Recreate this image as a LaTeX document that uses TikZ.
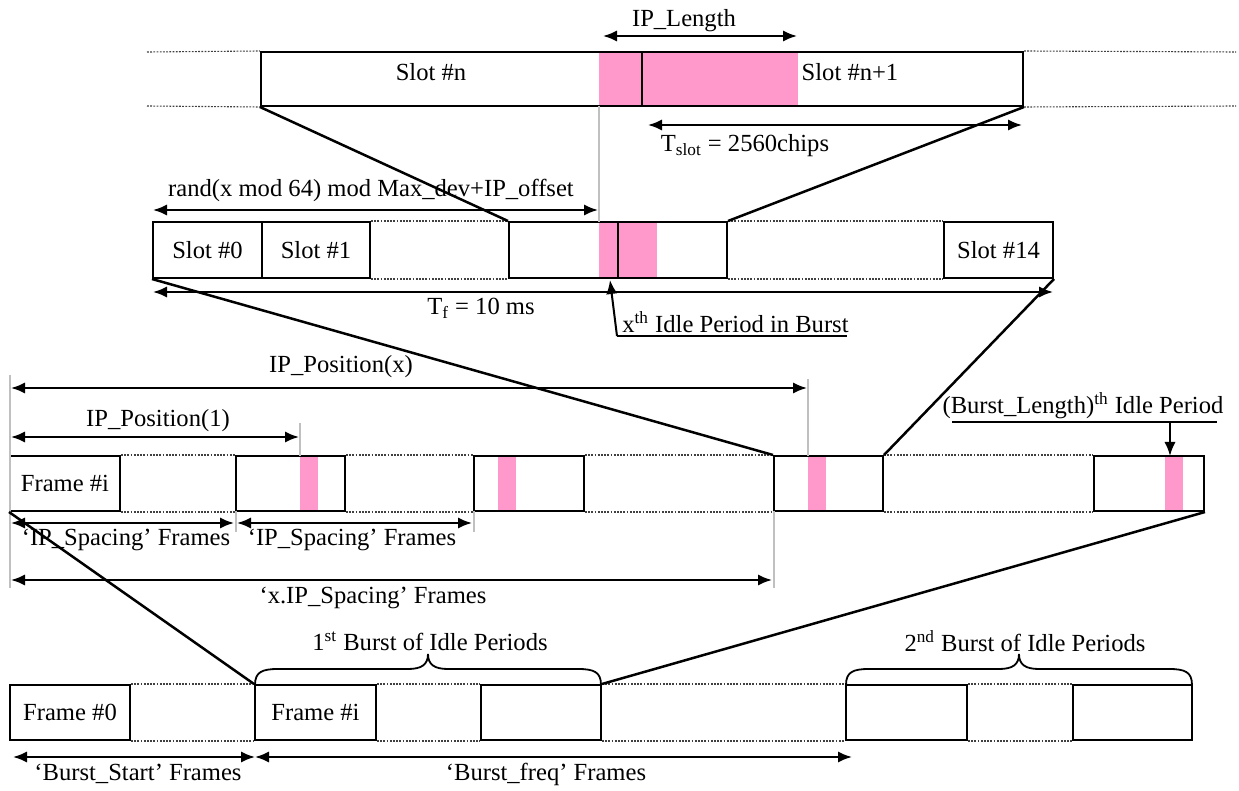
\documentclass[tikz,border=0pt]{standalone}
\usepackage{fontspec}
\setmainfont{Liberation Serif}
\usetikzlibrary{arrows.meta,fit}
\definecolor{idle}{HTML}{FF99CC}
\definecolor{guide}{HTML}{C0C0C0}
\tikzset{
  box/.style={draw=black, line width=1pt, inner sep=0pt},
  idlefill/.style={fill=idle, draw=none},
  dotline/.style={draw=black!75, line width=0.55pt, dash pattern=on 0.9pt off 0.7pt},
  guideline/.style={draw=guide, line width=0.75pt},
  zoomline/.style={line width=1.25pt},
  tipA/.tip={Latex[length=7pt,width=5.6pt]},
  dim/.style={line width=1pt, tipA-tipA},
  ptr/.style={line width=1pt, -tipA},
  lbl/.style={inner sep=0pt, font=\fontsize{12.3}{14}\selectfont},
  brc/.style={line width=0.9pt},
}
\begin{document}
\begin{tikzpicture}[x=0.5pt,y=-0.5pt]
\useasboundingbox (0,0) rectangle (1239,791);

% ---------- top row ----------
\fill[idlefill] (599,52) rectangle (798,106);
\node[box, fit={(261,52)(642,106)}] (sn) {};
\node[box, fit={(642,52)(1023,106)}] (sn1) {};
\node[lbl] (lsn) at (431,72) {Slot \#n};
\node[lbl] (lsn1) at (850,72) {Slot \#n+1};
\draw[dotline] (147,52) -- (sn.north west);
\draw[dotline] (147,106) -- (sn.south west);
\draw[dotline] (sn1.north east) -- (1236,52);
\draw[dotline] (sn1.south east) -- (1236,106);

\coordinate (ipl1) at (603,36);
\coordinate (ipl2) at (797,36);
\draw[dim] (ipl1) -- (ipl2);
\node[lbl] (lipl) at (684,21) {IP\_Length};

\coordinate (ts1) at (648,125);
\coordinate (ts2) at (1022,125);
\draw[dim] (ts1) -- (ts2);
\node[lbl] (lts) at (745,146) {T\textsubscript{slot} = 2560chips};

% ---------- second row ----------
\fill[idlefill] (599,222) rectangle (657,278);
\node[box, fit={(153,222)(262,278)}] (s0) {};
\node[box, fit={(262,222)(370,278)}] (s1) {};
\node[box, fit={(509,222)(727,278)}] (sm) {};
\node[box, fit={(944,222)(1053,278)}] (s14) {};
\node[lbl] (ls0) at (s0.center) {Slot \#0};
\node[lbl] (ls1) at (s1.center) {Slot \#1};
\node[lbl] (ls14) at (s14.center) {Slot \#14};
\draw[line width=1pt] (618,222) -- (618,278);
\draw[dotline] (s1.north east) -- (sm.north west);
\draw[dotline] (s1.south east) -- (sm.south west);
\draw[dotline] (sm.north east) -- (s14.north west);
\draw[dotline] (sm.south east) -- (s14.south west);

\coordinate (g599a) at (599,106);
\coordinate (g599b) at (599,222);
\draw[guideline] (g599a) -- (g599b);

\draw[zoomline] (sn.south west) -- (sm.north west);
\draw[zoomline] (sn1.south east) -- (sm.north east);

\coordinate (rd1) at (153,210);
\coordinate (rd2) at (598,210);
\draw[dim] (rd1) -- (rd2);
\node[lbl] (lrd) at (371,190) {rand(x mod 64) mod Max\_dev+IP\_offset};

\coordinate (tf1) at (153,292);
\coordinate (tf2) at (1053,292);
\draw[dim] (tf1) -- (tf2);
\node[lbl] (ltf) at (481,308) {T\textsubscript{f} = 10 ms};

\coordinate (xu1) at (617,336);
\coordinate (xu2) at (847,336);
\coordinate (xtip) at (610,280);
\draw[line width=1pt] (xu1) -- (xu2);
\draw[ptr] (xu1) -- (xtip);
\node[lbl, anchor=south west] (lx) at (622,333) {x\textsuperscript{th} Idle Period in Burst};

% ---------- third row ----------
\fill[idlefill] (300,456) rectangle (318,511);
\fill[idlefill] (498,456) rectangle (516,511);
\fill[idlefill] (808,456) rectangle (826,511);
\fill[idlefill] (1165,456) rectangle (1183,511);
\node[box, fit={(10,456)(120,511)}] (f1) {};
\node[box, fit={(236,456)(345,511)}] (f2) {};
\node[box, fit={(474,456)(584,511)}] (f3) {};
\node[box, fit={(774,456)(883,511)}] (f4) {};
\node[box, fit={(1094,456)(1204,511)}] (f5) {};
\node[lbl] (lf1) at (f1.center) {Frame \#i};
\draw[dotline] (f1.north east) -- (f2.north west);
\draw[dotline] (f1.south east) -- (f2.south west);
\draw[dotline] (f2.north east) -- (f3.north west);
\draw[dotline] (f2.south east) -- (f3.south west);
\draw[dotline] (f3.north east) -- (f4.north west);
\draw[dotline] (f3.south east) -- (f4.south west);
\draw[dotline] (f4.north east) -- (f5.north west);
\draw[dotline] (f4.south east) -- (f5.south west);

\draw[guideline] (10,375) -- (10,588);
\draw[guideline] (300,423) -- (300,456);
\draw[guideline] (808,379) -- (808,456);
\draw[guideline] (236,511) -- (236,532);
\draw[guideline] (474,511) -- (474,532);
\draw[guideline] (774,511) -- (774,588);

\draw[zoomline] (s0.south west) -- (f4.north west);
\draw[zoomline] (s14.south east) -- (f4.north east);

\coordinate (px1) at (11,388);
\coordinate (px2) at (807,388);
\draw[dim] (px1) -- (px2);
\node[lbl] (lpx) at (341,367) {IP\_Position(x)};

\coordinate (p11) at (11,437);
\coordinate (p12) at (299,437);
\draw[dim] (p11) -- (p12);
\node[lbl] (lp1) at (158,421) {IP\_Position(1)};

\coordinate (sp1) at (11,523);
\coordinate (sp2) at (234,523);
\coordinate (sp3) at (237,523);
\coordinate (sp4) at (472,523);
\draw[dim] (sp1) -- (sp2);
\draw[dim] (sp3) -- (sp4);
\node[lbl] (lsp1) at (126,540) {‘IP\_Spacing’ Frames};
\node[lbl] (lsp2) at (352,540) {‘IP\_Spacing’ Frames};

\coordinate (xs1) at (11,580);
\coordinate (xs2) at (772,580);
\draw[dim] (xs1) -- (xs2);
\node[lbl] (lxs) at (373,598) {‘x.IP\_Spacing’ Frames};

\coordinate (bu1) at (952,422);
\coordinate (bu2) at (1217,422);
\coordinate (bua) at (1170,422);
\coordinate (bub) at (1170,456);
\draw[line width=1pt] (bu1) -- (bu2);
\draw[ptr] (bua) -- (bub);
\node[lbl, anchor=south] (lbl5) at (1083,419) {(Burst\_Length)\textsuperscript{th} Idle Period};

% ---------- fourth row ----------
\node[box, fit={(10,685)(130,740)}] (g0) {};
\node[box, fit={(255,685)(376,740)}] (g1) {};
\node[box, fit={(481,685)(601,740)}] (g2) {};
\node[box, fit={(846,685)(967,740)}] (g3) {};
\node[box, fit={(1073,685)(1192,740)}] (g4) {};
\node[lbl] (lg0) at (g0.center) {Frame \#0};
\node[lbl] (lg1) at (g1.center) {Frame \#i};
\draw[dotline] (g0.north east) -- (g1.north west);
\draw[dotline] (g0.south east) -- (g1.south west);
\draw[dotline] (g1.north east) -- (g2.north west);
\draw[dotline] (g1.south east) -- (g2.south west);
\draw[dotline] (g2.north east) -- (g3.north west);
\draw[dotline] (g2.south east) -- (g3.south west);
\draw[dotline] (g3.north east) -- (g4.north west);
\draw[dotline] (g3.south east) -- (g4.south west);

\draw[zoomline] (f1.south west) -- (g1.north west);
\draw[zoomline] (f5.south east) -- (g2.north east);

% braces
\draw[brc] (255,685) .. controls (255,672) and (262,669) .. (278,669) -- (408,669)
  .. controls (421,669) and (428,665) .. (428,654)
  .. controls (428,665) and (435,669) .. (448,669) -- (578,669)
  .. controls (594,669) and (601,672) .. (601,685);
\draw[brc] (846,685) .. controls (846,672) and (853,669) .. (869,669) -- (999,669)
  .. controls (1012,669) and (1019,665) .. (1019,654)
  .. controls (1019,665) and (1026,669) .. (1039,669) -- (1169,669)
  .. controls (1185,669) and (1192,672) .. (1192,685);
\node[lbl] (lb1) at (430,641) {1\textsuperscript{st} Burst of Idle Periods};
\node[lbl] (lb2) at (1025,641) {2\textsuperscript{nd} Burst of Idle Periods};

\coordinate (bs1) at (13,757);
\coordinate (bs2) at (255,757);
\coordinate (bf2) at (852,757);
\draw[dim] (bs1) -- (bs2);
\draw[dim] (bs2) -- (bf2);
\node[lbl] (lbs) at (138,774) {‘Burst\_Start’ Frames};
\node[lbl] (lbf) at (546,774) {‘Burst\_freq’ Frames};
\end{tikzpicture}
\end{document}
